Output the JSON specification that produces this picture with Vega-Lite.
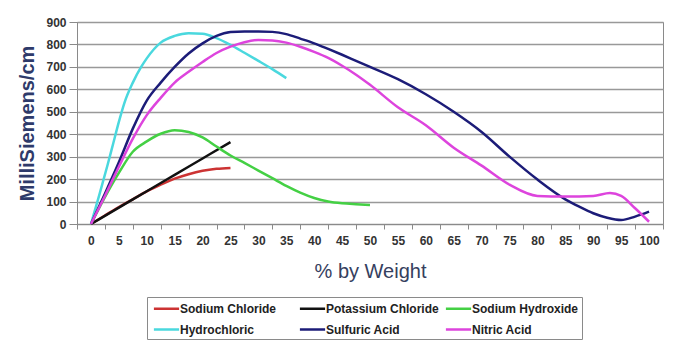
{
  "$schema": "https://vega.github.io/schema/vega-lite/v6.json",
  "width": 586,
  "height": 202,
  "autosize": {"type": "none"},
  "padding": {"left": 77, "top": 22, "right": 19, "bottom": 133},
  "background": "white",
  "config": {
    "view": {"stroke": "#8a8a8a", "strokeWidth": 1},
    "font": "Liberation Sans"
  },
  "datasets": {
    "series": [
      {"s": "Sodium Chloride", "x": 0, "y": 0},
      {"s": "Sodium Chloride", "x": 2.5, "y": 38},
      {"s": "Sodium Chloride", "x": 5, "y": 75},
      {"s": "Sodium Chloride", "x": 7.5, "y": 110},
      {"s": "Sodium Chloride", "x": 10, "y": 145},
      {"s": "Sodium Chloride", "x": 12.5, "y": 175},
      {"s": "Sodium Chloride", "x": 15, "y": 202},
      {"s": "Sodium Chloride", "x": 17.5, "y": 222},
      {"s": "Sodium Chloride", "x": 20, "y": 237},
      {"s": "Sodium Chloride", "x": 22.5, "y": 246},
      {"s": "Sodium Chloride", "x": 25, "y": 250},

      {"s": "Potassium Chloride", "x": 0, "y": 0},
      {"s": "Potassium Chloride", "x": 5, "y": 73},
      {"s": "Potassium Chloride", "x": 10, "y": 146},
      {"s": "Potassium Chloride", "x": 15, "y": 219},
      {"s": "Potassium Chloride", "x": 20, "y": 292},
      {"s": "Potassium Chloride", "x": 25, "y": 365},

      {"s": "Sodium Hydroxide", "x": 0, "y": 0},
      {"s": "Sodium Hydroxide", "x": 2.5, "y": 120},
      {"s": "Sodium Hydroxide", "x": 5, "y": 228},
      {"s": "Sodium Hydroxide", "x": 7.5, "y": 322},
      {"s": "Sodium Hydroxide", "x": 10, "y": 368},
      {"s": "Sodium Hydroxide", "x": 12.5, "y": 402},
      {"s": "Sodium Hydroxide", "x": 15, "y": 418},
      {"s": "Sodium Hydroxide", "x": 17.5, "y": 410},
      {"s": "Sodium Hydroxide", "x": 20, "y": 386},
      {"s": "Sodium Hydroxide", "x": 22.5, "y": 345},
      {"s": "Sodium Hydroxide", "x": 25, "y": 305},
      {"s": "Sodium Hydroxide", "x": 27.5, "y": 272},
      {"s": "Sodium Hydroxide", "x": 30, "y": 238},
      {"s": "Sodium Hydroxide", "x": 32.5, "y": 204},
      {"s": "Sodium Hydroxide", "x": 35, "y": 170},
      {"s": "Sodium Hydroxide", "x": 37.5, "y": 140},
      {"s": "Sodium Hydroxide", "x": 40, "y": 116},
      {"s": "Sodium Hydroxide", "x": 42.5, "y": 100},
      {"s": "Sodium Hydroxide", "x": 45, "y": 92},
      {"s": "Sodium Hydroxide", "x": 47.5, "y": 88},
      {"s": "Sodium Hydroxide", "x": 50, "y": 85},

      {"s": "Hydrochloric", "x": 0, "y": 0},
      {"s": "Hydrochloric", "x": 1.5, "y": 130},
      {"s": "Hydrochloric", "x": 3, "y": 265},
      {"s": "Hydrochloric", "x": 4, "y": 360},
      {"s": "Hydrochloric", "x": 5, "y": 455},
      {"s": "Hydrochloric", "x": 6, "y": 540},
      {"s": "Hydrochloric", "x": 7.5, "y": 630},
      {"s": "Hydrochloric", "x": 9, "y": 700},
      {"s": "Hydrochloric", "x": 10, "y": 738},
      {"s": "Hydrochloric", "x": 12.5, "y": 808},
      {"s": "Hydrochloric", "x": 15, "y": 838},
      {"s": "Hydrochloric", "x": 17.5, "y": 850},
      {"s": "Hydrochloric", "x": 20, "y": 848},
      {"s": "Hydrochloric", "x": 22.5, "y": 828},
      {"s": "Hydrochloric", "x": 25, "y": 798},
      {"s": "Hydrochloric", "x": 27.5, "y": 763},
      {"s": "Hydrochloric", "x": 30, "y": 727},
      {"s": "Hydrochloric", "x": 32.5, "y": 690},
      {"s": "Hydrochloric", "x": 35, "y": 650},

      {"s": "Sulfuric Acid", "x": 0, "y": 0},
      {"s": "Sulfuric Acid", "x": 2.5, "y": 135},
      {"s": "Sulfuric Acid", "x": 5, "y": 275},
      {"s": "Sulfuric Acid", "x": 7.5, "y": 425},
      {"s": "Sulfuric Acid", "x": 10, "y": 550},
      {"s": "Sulfuric Acid", "x": 12.5, "y": 630},
      {"s": "Sulfuric Acid", "x": 15, "y": 700},
      {"s": "Sulfuric Acid", "x": 17.5, "y": 760},
      {"s": "Sulfuric Acid", "x": 20, "y": 805},
      {"s": "Sulfuric Acid", "x": 22.5, "y": 838},
      {"s": "Sulfuric Acid", "x": 25, "y": 855},
      {"s": "Sulfuric Acid", "x": 27.5, "y": 858},
      {"s": "Sulfuric Acid", "x": 30, "y": 858},
      {"s": "Sulfuric Acid", "x": 32.5, "y": 856},
      {"s": "Sulfuric Acid", "x": 35, "y": 846},
      {"s": "Sulfuric Acid", "x": 37.5, "y": 826},
      {"s": "Sulfuric Acid", "x": 40, "y": 805},
      {"s": "Sulfuric Acid", "x": 42.5, "y": 780},
      {"s": "Sulfuric Acid", "x": 45, "y": 754},
      {"s": "Sulfuric Acid", "x": 47.5, "y": 727},
      {"s": "Sulfuric Acid", "x": 50, "y": 700},
      {"s": "Sulfuric Acid", "x": 55, "y": 645},
      {"s": "Sulfuric Acid", "x": 60, "y": 578},
      {"s": "Sulfuric Acid", "x": 65, "y": 500},
      {"s": "Sulfuric Acid", "x": 70, "y": 410},
      {"s": "Sulfuric Acid", "x": 75, "y": 300},
      {"s": "Sulfuric Acid", "x": 80, "y": 198},
      {"s": "Sulfuric Acid", "x": 85, "y": 110},
      {"s": "Sulfuric Acid", "x": 87.5, "y": 77},
      {"s": "Sulfuric Acid", "x": 90, "y": 48},
      {"s": "Sulfuric Acid", "x": 92.5, "y": 28},
      {"s": "Sulfuric Acid", "x": 95, "y": 18},
      {"s": "Sulfuric Acid", "x": 97.5, "y": 33},
      {"s": "Sulfuric Acid", "x": 100, "y": 55},

      {"s": "Nitric Acid", "x": 0, "y": 0},
      {"s": "Nitric Acid", "x": 2.5, "y": 125},
      {"s": "Nitric Acid", "x": 5, "y": 255},
      {"s": "Nitric Acid", "x": 7.5, "y": 380},
      {"s": "Nitric Acid", "x": 10, "y": 485},
      {"s": "Nitric Acid", "x": 12.5, "y": 562},
      {"s": "Nitric Acid", "x": 15, "y": 630},
      {"s": "Nitric Acid", "x": 17.5, "y": 678},
      {"s": "Nitric Acid", "x": 20, "y": 722},
      {"s": "Nitric Acid", "x": 22.5, "y": 762},
      {"s": "Nitric Acid", "x": 25, "y": 790},
      {"s": "Nitric Acid", "x": 27.5, "y": 810},
      {"s": "Nitric Acid", "x": 30, "y": 820},
      {"s": "Nitric Acid", "x": 32.5, "y": 818},
      {"s": "Nitric Acid", "x": 35, "y": 808},
      {"s": "Nitric Acid", "x": 37.5, "y": 790},
      {"s": "Nitric Acid", "x": 40, "y": 767},
      {"s": "Nitric Acid", "x": 42.5, "y": 740},
      {"s": "Nitric Acid", "x": 45, "y": 705},
      {"s": "Nitric Acid", "x": 47.5, "y": 665},
      {"s": "Nitric Acid", "x": 50, "y": 620},
      {"s": "Nitric Acid", "x": 55, "y": 520},
      {"s": "Nitric Acid", "x": 60, "y": 440},
      {"s": "Nitric Acid", "x": 65, "y": 340},
      {"s": "Nitric Acid", "x": 70, "y": 260},
      {"s": "Nitric Acid", "x": 75, "y": 175},
      {"s": "Nitric Acid", "x": 80, "y": 125},
      {"s": "Nitric Acid", "x": 85, "y": 122},
      {"s": "Nitric Acid", "x": 90, "y": 125},
      {"s": "Nitric Acid", "x": 93, "y": 138},
      {"s": "Nitric Acid", "x": 95, "y": 125},
      {"s": "Nitric Acid", "x": 97.5, "y": 70},
      {"s": "Nitric Acid", "x": 100, "y": 10}
    ]
  },
  "data": {"name": "series"},
  "mark": {"type": "line", "strokeWidth": 2.5, "interpolate": "monotone"},
  "encoding": {
    "x": {
      "field": "x",
      "type": "quantitative",
      "scale": {"domain": [-2.5, 102.5], "nice": false, "zero": false},
      "axis": {
        "values": [-2.5, 0, 2.5, 5, 7.5, 10, 12.5, 15, 17.5, 20, 22.5, 25, 27.5, 30, 32.5, 35, 37.5, 40, 42.5, 45, 47.5, 50, 52.5, 55, 57.5, 60, 62.5, 65, 67.5, 70, 72.5, 75, 77.5, 80, 82.5, 85, 87.5, 90, 92.5, 95, 97.5, 100, 102.5],
        "labelExpr": "datum.value % 5 == 0 ? datum.label : ''",
        "labelOverlap": false,
        "labelBound": false,
        "labelFlush": false,
        "tickOpacity": {"condition": {"test": "datum.value % 5 == 0", "value": 0}, "value": 1},
        "grid": false,
        "tickSize": 5,
        "tickColor": "#8a8a8a",
        "domainColor": "#8a8a8a",
        "labelPadding": 6,
        "labelFontSize": 12,
        "labelFontWeight": "bold",
        "labelColor": "#333333",
        "title": "% by Weight",
        "titleFontSize": 20,
        "titleFontWeight": "normal",
        "titleColor": "#35405e",
        "titlePadding": 15
      }
    },
    "y": {
      "field": "y",
      "type": "quantitative",
      "scale": {"domain": [0, 900], "nice": false},
      "axis": {
        "values": [0, 100, 200, 300, 400, 500, 600, 700, 800, 900],
        "grid": true,
        "gridColor": "#999999",
        "gridWidth": 1.5,
        "tickSize": 8,
        "tickColor": "#8a8a8a",
        "domainColor": "#8a8a8a",
        "labelPadding": 3,
        "labelFontSize": 12,
        "labelFontWeight": "bold",
        "labelColor": "#333333",
        "title": "MilliSiemens/cm",
        "titleFontSize": 20,
        "titleFontWeight": "bold",
        "titleColor": "#2e3a6a",
        "titlePadding": 8
      }
    },
    "color": {
      "field": "s",
      "type": "nominal",
      "scale": {
        "domain": ["Sodium Chloride", "Potassium Chloride", "Sodium Hydroxide", "Hydrochloric", "Sulfuric Acid", "Nitric Acid"],
        "range": ["#cc3333", "#111111", "#44d044", "#4ad8de", "#1c1c78", "#dd44dd"]
      },
      "legend": {
        "orient": "none",
        "legendX": 70,
        "legendY": 275,
        "columns": 3,
        "direction": "horizontal",
        "gridAlign": "all",
        "symbolType": "M-1.8,0H1.8",
        "symbolSize": 196,
        "symbolStrokeWidth": 2.5,
        "symbolOffset": 8,
        "labelFontSize": 12,
        "labelFontWeight": "bold",
        "labelColor": "#222222",
        "labelOffset": 5,
        "labelLimit": 0,
        "columnPadding": 1,
        "rowPadding": 6,
        "padding": 3,
        "strokeColor": "#8a8a8a",
        "fillColor": "white",
        "title": null
      }
    }
  }
}
